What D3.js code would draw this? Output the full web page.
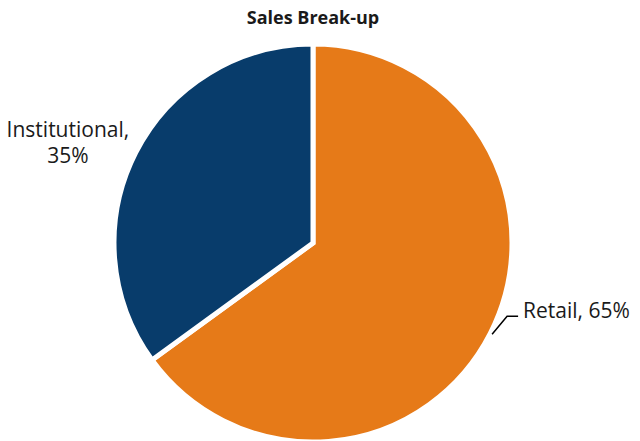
<!DOCTYPE html>
<html>
<head>
<meta charset="utf-8">
<script src="https://cdn.jsdelivr.net/npm/d3@7"></script>
<style>
  body { margin: 0; background: #fff; }
  text { font-family: "Open Sans", "Noto Sans", sans-serif; fill: #1a1a1a; }
</style>
</head>
<body>
<script>
"use strict";

const categories = ["Retail", "Institutional"];
const shares = [65, 35];
const colors = ["#E67A18", "#083C6B"];

const m = { width: 640, height: 441 };
const cx = 313, cy = 243, r = 199;

const svg = d3.select("body").append("svg")
  .attr("width", m.width)
  .attr("height", m.height);

svg.append("text")
  .attr("x", cx)
  .attr("y", 24)
  .attr("text-anchor", "middle")
  .attr("font-weight", "bold")
  .attr("font-size", 18)
  .text("Sales Break-up");

const data = categories.map((c, i) => ({ name: c, value: shares[i], color: colors[i] }));

const pie = d3.pie().sort(null).value(d => d.value);
const arc = d3.arc().innerRadius(0).outerRadius(r);
const arcs = pie(data);

const g = svg.append("g").attr("transform", `translate(${cx},${cy})`);

g.selectAll("path")
  .data(arcs)
  .enter()
  .append("path")
  .attr("d", arc)
  .attr("fill", d => d.data.color)
  .attr("stroke", "#fff")
  .attr("stroke-width", 5)
  .attr("stroke-linejoin", "miter");

const mid = d => (d.startAngle + d.endAngle) / 2;
const pt = (a, rad) => [Math.sin(a) * rad, -Math.cos(a) * rad];

// Retail label with leader line
const ret = arcs[0];
const p0 = pt(mid(ret), r + 2);
const p1 = [p0[0] + 15, p0[1] - 18];
const p2 = [p1[0] + 11, p1[1]];
g.append("polyline")
  .attr("points", [p0, p1, p2].map(p => p.join(",")).join(" "))
  .attr("fill", "none")
  .attr("stroke", "#000")
  .attr("stroke-width", 1.5);
g.append("text")
  .attr("x", p2[0] + 5)
  .attr("y", p2[1] + 2)
  .attr("font-size", 21)
  .text(`${ret.data.name}, ${ret.data.value}%`);

// Institutional label
const inst = arcs[1];
const q = pt(mid(inst), 265);
const lbl = g.append("text")
  .attr("text-anchor", "middle")
  .attr("font-size", 21);
lbl.append("tspan").attr("x", q[0] - 9).attr("y", q[1] + 14).text(`${inst.data.name},`);
lbl.append("tspan").attr("x", q[0] - 9).attr("y", q[1] + 40).text(`${inst.data.value}%`);
</script>
</body>
</html>
